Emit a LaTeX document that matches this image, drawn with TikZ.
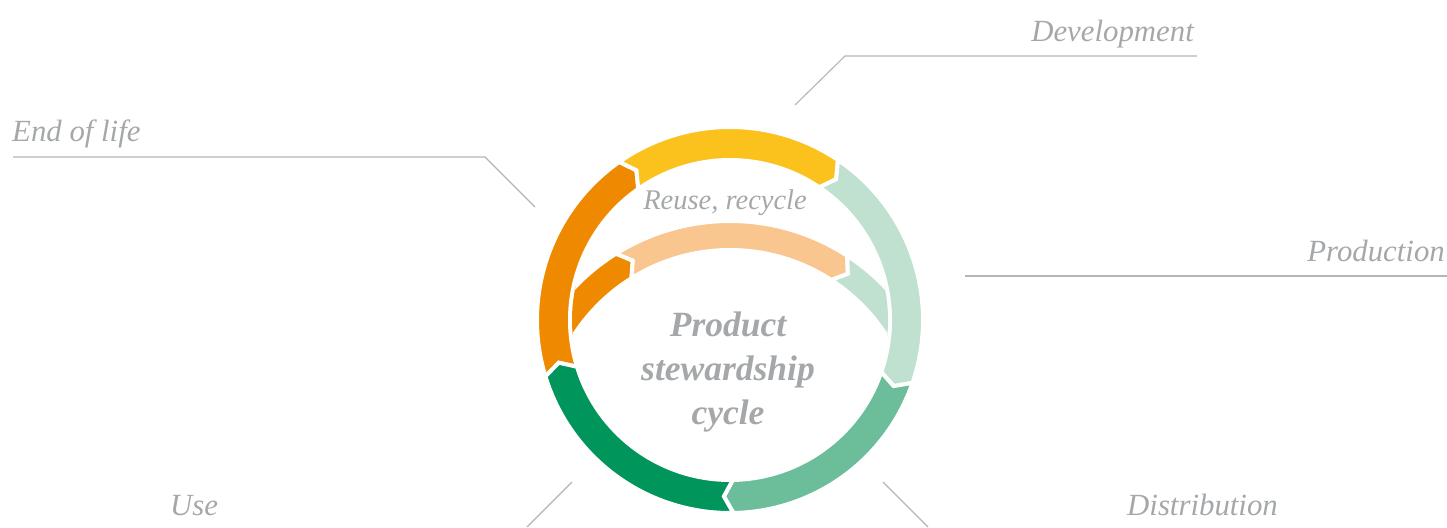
\documentclass[tikz,border=0pt]{standalone}
\usepackage{fontspec}
\setmainfont{Liberation Serif}

\definecolor{endlife}{HTML}{EF8A00}
\definecolor{devel}{HTML}{FBC11D}
\definecolor{prodn}{HTML}{C0E1CF}
\definecolor{distr}{HTML}{6CBE9B}
\definecolor{usecol}{HTML}{00955B}
\definecolor{reuse}{HTML}{F9C68F}
\definecolor{textgrey}{HTML}{A5A8AA}
\definecolor{linegrey}{HTML}{B3B5B6}

\begin{document}
\begin{tikzpicture}[x=1pt,y=1pt,
  phase/.style={font=\fontsize{30.8}{36}\selectfont\itshape, text=textgrey, inner sep=0pt},
  leader/.style={draw=linegrey, line width=1.1pt},
  seg/.style={draw=white, line width=4pt}]

\useasboundingbox (0,0) rectangle (1447,527);

% outer ring
\begin{scope}[shift={(730,207)}]
\foreach \s/\e/\c in {197/125/endlife, 125/56/devel, 56/-19/prodn, -19/-89/distr, -89/-163/usecol}
  \filldraw[seg, fill=\c] (\s:193pt) arc[start angle=\s, end angle=\e, radius=193pt]
    -- (\e-3:176.5pt) -- (\e:160pt) arc[start angle=\e, end angle=\s, radius=160pt]
    -- (\s-3:176.5pt) -- cycle;
\end{scope}

% inner arc
\begin{scope}
\clip (730,207) circle[radius=158pt];
\begin{scope}[shift={(730,91)}]
\foreach \s/\e/\c in {175/122/endlife, 122/57/reuse, 57/5/prodn}
  \filldraw[seg, fill=\c] (\s:215pt) arc[start angle=\s, end angle=\e, radius=215pt]
    -- (\e-3:200.5pt) -- (\e:186pt) arc[start angle=\e, end angle=\s, radius=186pt]
    -- (\s-3:200.5pt) -- cycle;
\end{scope}
\end{scope}

\node[font=\fontsize{28.5}{34}\selectfont\itshape, text=textgrey, anchor=base] (recycle) at (725,317) {Reuse, recycle};
\node[font=\fontsize{35.5}{44}\selectfont\bfseries\itshape, text=textgrey, align=center, anchor=base] (cycle) at (728,102) {Product\\stewardship\\cycle};

% labels
\node[phase, anchor=base east] (develop) at (1194,485) {Development};
\node[phase, anchor=base west] (endoflife) at (12,385) {End of life};
\node[phase, anchor=base east] (production) at (1445,265) {Production};
\node[phase, anchor=base west] (distribution) at (1127,12) {Distribution};
\node[phase, anchor=base west] (use) at (170,12) {Use};

\coordinate (devA) at (795,422);
\coordinate (devB) at (845,471);
\coordinate (devC) at (1197,471);
\coordinate (eolA) at (535,320);
\coordinate (eolB) at (485,370);
\coordinate (eolC) at (13,370);
\coordinate (proA) at (965,251);
\coordinate (proB) at (1447,251);
\coordinate (disA) at (883,45);
\coordinate (disB) at (928,0);
\coordinate (useA) at (572,45);
\coordinate (useB) at (527,0);

\draw[leader] (devA) -- (devB) -- (devC);
\draw[leader] (eolA) -- (eolB) -- (eolC);
\draw[leader] (proA) -- (proB);
\draw[leader] (disA) -- (disB);
\draw[leader] (useA) -- (useB);
\end{tikzpicture}
\end{document}
